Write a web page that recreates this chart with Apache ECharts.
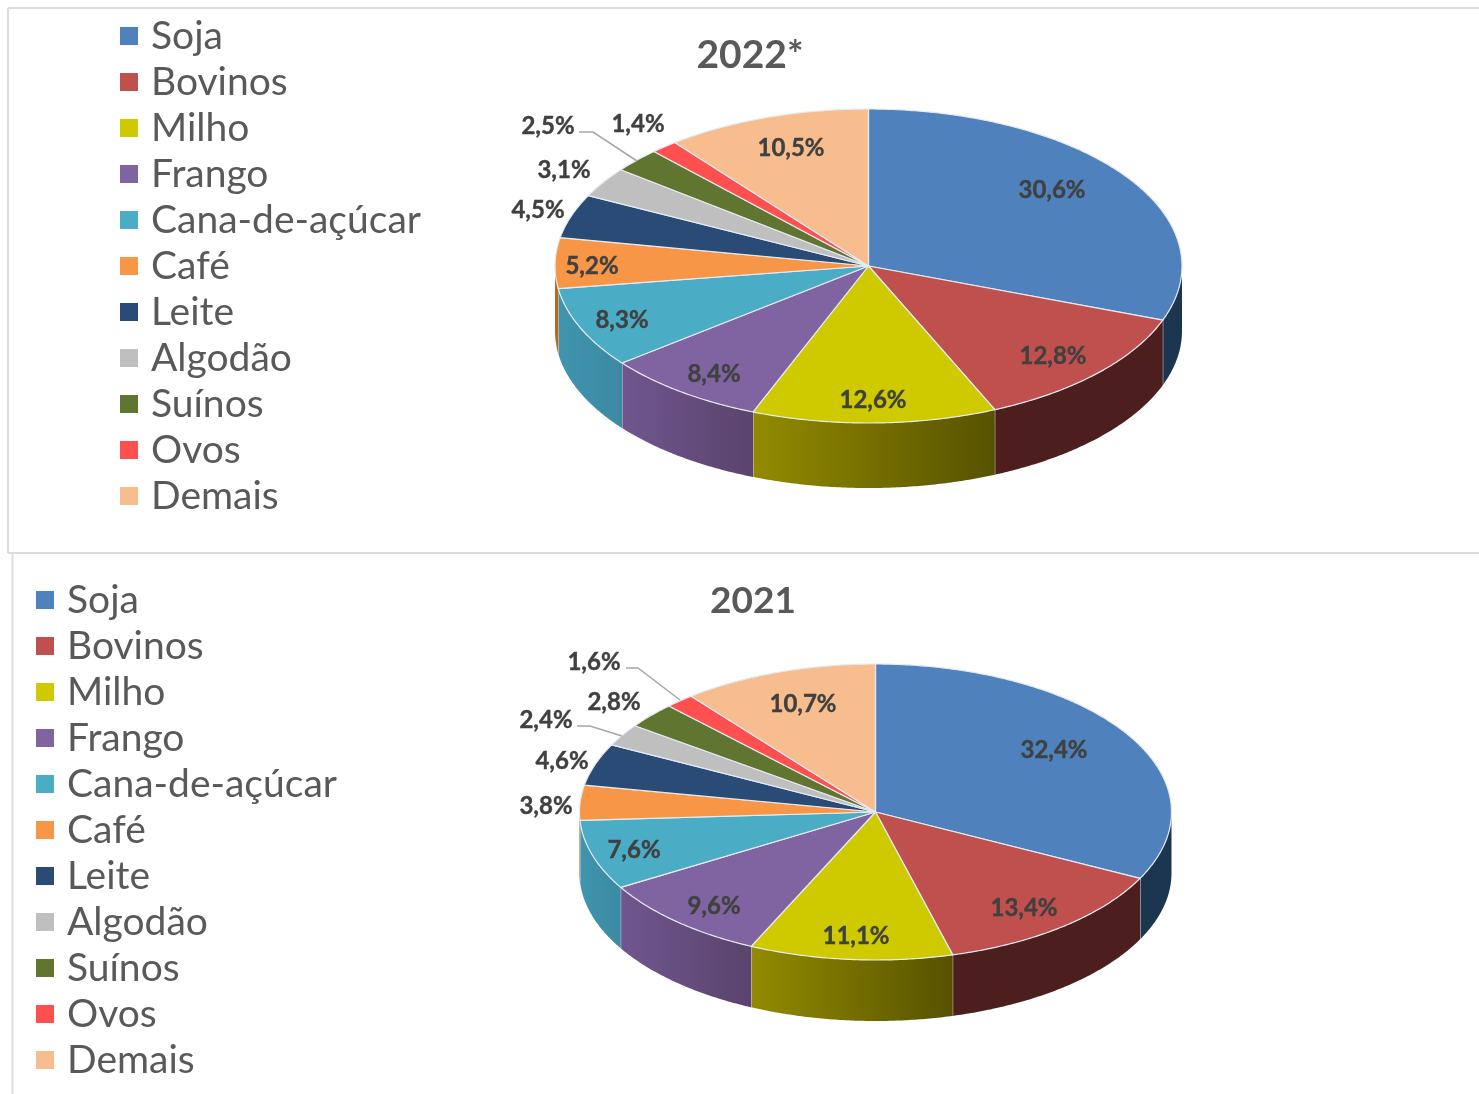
<!DOCTYPE html>
<html>
<head>
<meta charset="utf-8">
<title>Pizza 2022 e 2021</title>
<script src="https://cdn.jsdelivr.net/npm/echarts@6/dist/echarts.min.js"></script>
<style>
html, body { margin: 0; padding: 0; background: #fff; overflow: hidden; }
#main { width: 1479px; height: 1094px; }
</style>
</head>
<body>
<div id="main"></div>
<script>
var categories = ['Soja', 'Bovinos', 'Milho', 'Frango', 'Cana-de-açúcar', 'Café', 'Leite', 'Algodão', 'Suínos', 'Ovos', 'Demais'];
var values2022 = [30.6, 12.8, 12.6, 8.4, 8.3, 5.2, 4.5, 3.1, 2.5, 1.4, 10.5];
var values2021 = [32.4, 13.4, 11.1, 9.6, 7.6, 3.8, 4.6, 2.4, 2.8, 1.6, 10.7];

var colors = ['#4f81bd', '#c0504d', '#cfca00', '#8064a2', '#4bacc6', '#f79646', '#2a4b75', '#bfbfbf', '#5f7530', '#ff5050', '#f7bd8e'];
// lateral da pizza: [esquerda, direita]
var wallColors = [['#1d3650', '#1d3650'], ['#4c1f1e', '#4c1f1e'], ['#928b00', '#575200'], ['#70568f', '#5a436c'], ['#4095ae', '#3c89a3'], ['#b5691f', '#b5691f'], ['#1a2f4a', '#1a2f4a'], ['#777', '#777'], ['#3b491e', '#3b491e'], ['#a33', '#a33'], ['#a57c5c', '#a57c5c']];

var charts = [
  {
    title: '2022*', titleX: 750, titleY: 55, titleSize: 39,
    values: values2022,
    cx: 868.5, cy: 266, rx: 313.5, ry: 157, depth: 65,
    legendLeft: 120, legendTop: 13,
    labels: [[1052, 190], [1053, 356], [873, 400], [714, 374], [622, 320], [592, 266], [538, 210], [564, 170], [548, 126], [638, 124], [791, 148]],
    leaders: { 8: [[579, 132], [593, 132], [637, 161]] }
  },
  {
    title: '2021', titleX: 753, titleY: 601, titleSize: 37,
    values: values2021,
    cx: 875.5, cy: 812, rx: 296, ry: 148, depth: 61,
    legendLeft: 36, legendTop: 577,
    labels: [[1054, 750], [1024, 908], [856, 936], [714, 906], [634, 850], [546, 806], [562, 761], [546, 720], [614, 702], [594, 662], [803, 704]],
    leaders: { 7: [[577, 726], [590, 726], [622, 736]], 9: [[626, 668], [638, 668], [680, 700]] }
  }
];

function rim(c, deg, drop) {
  var a = deg * Math.PI / 180;
  return [c.cx + c.rx * Math.sin(a), c.cy - c.ry * Math.cos(a) + (drop || 0)];
}

function fmt(v) {
  return v.toFixed(1).replace('.', ',') + '%';
}

function sliceRender(c, idx) {
  return function () {
    // os rotulos somam 99,9; a ultima fatia fecha o circulo
    var before = c.values.slice(0, idx).reduce(function (s, v) { return s + v; }, 0);
    var start = before * 3.6;
    var end = idx === c.values.length - 1 ? 360 : (before + c.values[idx]) * 3.6;
    var children = [];
    var d, pts = [[c.cx, c.cy]];
    for (d = start; d < end; d += 0.5) pts.push(rim(c, d));
    pts.push(rim(c, end));
    children.push({
      type: 'polygon',
      shape: { points: pts },
      style: { fill: colors[idx], stroke: '#e6ebf2', lineWidth: 1.2, lineJoin: 'round' },
      z2: 2
    });

    // so a metade da frente tem lateral visivel
    var ws = Math.max(start, 90), we = Math.min(end, 270);
    if (we > ws) {
      var topEdge = [], botEdge = [];
      for (d = ws; d < we; d += 0.5) {
        topEdge.push(rim(c, d));
        botEdge.unshift(rim(c, d, c.depth));
      }
      topEdge.push(rim(c, we));
      botEdge.unshift(rim(c, we, c.depth));
      children.push({
        type: 'polygon',
        shape: { points: topEdge.concat(botEdge) },
        style: {
          fill: {
            type: 'linear', x: 0, y: 0, x2: 1, y2: 0,
            colorStops: [{ offset: 0, color: wallColors[idx][0] }, { offset: 1, color: wallColors[idx][1] }]
          }
        },
        z2: 1
      });
      if (we < 270) {
        var p = rim(c, we);
        children.push({
          type: 'line',
          shape: { x1: p[0], y1: p[1], x2: p[0], y2: p[1] + c.depth },
          style: { stroke: '#d5d5d5', lineWidth: 1 },
          z2: 1
        });
      }
    }

    if (c.leaders[idx]) {
      children.push({
        type: 'polyline',
        shape: { points: c.leaders[idx] },
        style: { fill: null, stroke: '#a6a6a6', lineWidth: 1.5 },
        z2: 5
      });
    }
    children.push({
      type: 'text',
      style: {
        text: fmt(c.values[idx]),
        x: c.labels[idx][0], y: c.labels[idx][1],
        align: 'center', verticalAlign: 'middle',
        font: 'bold 24px Lato', fill: '#404040', stroke: '#404040', lineWidth: 0.4
      },
      z2: 6
    });
    return { type: 'group', children: children };
  };
}

var series = [];
var legends = [];
var graphics = [
  { type: 'line', shape: { x1: 8, y1: 8, x2: 1479, y2: 8 }, style: { stroke: '#dcdcdc', lineWidth: 2 } },
  { type: 'line', shape: { x1: 8, y1: 8, x2: 8, y2: 553 }, style: { stroke: '#dcdcdc', lineWidth: 2 } },
  { type: 'line', shape: { x1: 8, y1: 553, x2: 1479, y2: 553 }, style: { stroke: '#dcdcdc', lineWidth: 2 } },
  { type: 'line', shape: { x1: 12.5, y1: 553, x2: 12.5, y2: 1094 }, style: { stroke: '#dcdcdc', lineWidth: 2 } }
];

charts.forEach(function (c) {
  categories.forEach(function (name, i) {
    series.push({
      type: 'custom',
      name: name,
      coordinateSystem: 'none',
      itemStyle: { color: colors[i] },
      data: [[c.values[i]]],
      renderItem: sliceRender(c, i),
      animation: false,
      silent: true
    });
  });
  legends.push({
    data: categories,
    orient: 'vertical',
    left: c.legendLeft,
    top: c.legendTop,
    padding: 0,
    itemGap: 0,
    itemWidth: 18,
    itemHeight: 18,
    icon: 'rect',
    selectedMode: false,
    textStyle: { fontFamily: 'Lato', fontSize: 39, color: '#595959', lineHeight: 46, height: 46, padding: [0, 0, 0, 8] }
  });
  graphics.push({
    type: 'text',
    style: {
      text: c.title, x: c.titleX, y: c.titleY,
      align: 'center', verticalAlign: 'middle',
      font: 'bold ' + c.titleSize + 'px Lato', fill: '#595959'
    }
  });
});

var myChart = echarts.init(document.getElementById('main'));
myChart.setOption({
  animation: false,
  backgroundColor: '#fff',
  legend: legends,
  graphic: graphics,
  series: series
});
</script>
</body>
</html>
